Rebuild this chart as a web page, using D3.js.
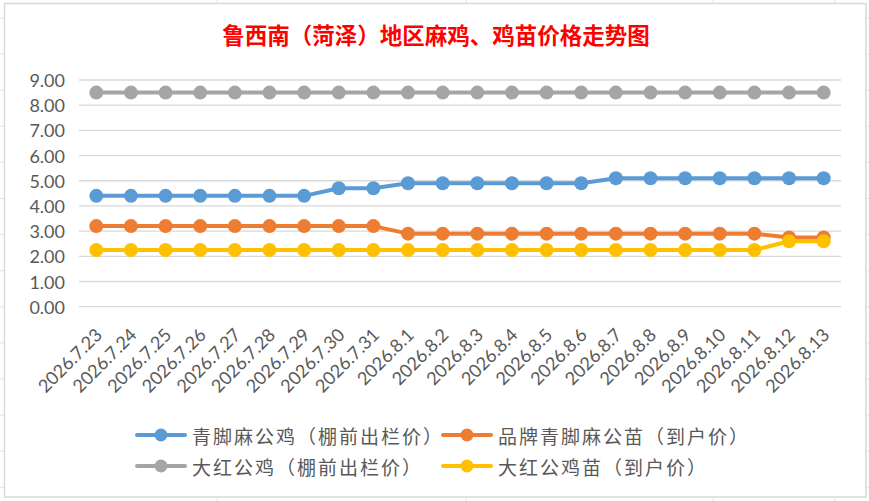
<!DOCTYPE html>
<html>
<head>
<meta charset="utf-8">
<script src="https://cdn.jsdelivr.net/npm/d3@7"></script>
<style>
  html, body { margin: 0; padding: 0; background: #fff; }
  svg { display: block; }
</style>
</head>
<body>
<div id="chart"></div>
<script>
// Data
const dates = ["2026.7.23", "2026.7.24", "2026.7.25", "2026.7.26", "2026.7.27", "2026.7.28", "2026.7.29",
    "2026.7.30", "2026.7.31", "2026.8.1", "2026.8.2", "2026.8.3", "2026.8.4", "2026.8.5", "2026.8.6",
    "2026.8.7", "2026.8.8", "2026.8.9", "2026.8.10", "2026.8.11", "2026.8.12", "2026.8.13"];
const qingjiaoJi = [4.4, 4.4, 4.4, 4.4, 4.4, 4.4, 4.4, 4.7, 4.7, 4.9, 4.9, 4.9, 4.9, 4.9, 4.9,
    5.1, 5.1, 5.1, 5.1, 5.1, 5.1, 5.1];
const pinpaiMiao = [3.2, 3.2, 3.2, 3.2, 3.2, 3.2, 3.2, 3.2, 3.2, 2.9, 2.9, 2.9, 2.9, 2.9, 2.9,
    2.9, 2.9, 2.9, 2.9, 2.9, 2.75, 2.75];
const dahongJi = [8.5, 8.5, 8.5, 8.5, 8.5, 8.5, 8.5, 8.5, 8.5, 8.5, 8.5, 8.5, 8.5, 8.5, 8.5,
    8.5, 8.5, 8.5, 8.5, 8.5, 8.5, 8.5];
const dahongMiao = [2.25, 2.25, 2.25, 2.25, 2.25, 2.25, 2.25, 2.25, 2.25, 2.25, 2.25, 2.25, 2.25, 2.25, 2.25,
    2.25, 2.25, 2.25, 2.25, 2.25, 2.6, 2.6];
const seriesNames = ["青脚麻公鸡（棚前出栏价）", "品牌青脚麻公苗（到户价）", "大红公鸡（棚前出栏价）", "大红公鸡苗（到户价）"];
const yTicks = [0, 1, 2, 3, 4, 5, 6, 7, 8, 9];
const title = "鲁西南（菏泽）地区麻鸡、鸡苗价格走势图";

const width = 869, height = 501;
const colors = ["#5B9BD5", "#ED7D31", "#A5A5A5", "#FFC000"];
const series = [qingjiaoJi, pinpaiMiao, dahongJi, dahongMiao].map((values, i) => ({
    name: seriesNames[i], color: colors[i], values
}));

const svg = d3.select("#chart").append("svg")
    .attr("width", width)
    .attr("height", height)
    .attr("viewBox", [0, 0, width, height]);

// spreadsheet cells behind the chart
const sheet = svg.append("g").attr("stroke", "#e3e3e3").attr("stroke-width", 1);
d3.range(18, height, 36.1).forEach(y => {
    sheet.append("line").attr("x1", 0).attr("x2", width).attr("y1", y).attr("y2", y);
});
[217, 466, 713, 835].forEach(x => {
    sheet.append("line").attr("x1", x).attr("x2", x).attr("y1", 0).attr("y2", height);
});

// chart area
svg.append("rect")
    .attr("x", 4.5).attr("y", 3.5)
    .attr("width", 861.5).attr("height", 493.5)
    .attr("fill", "#fff")
    .attr("stroke", "#d9d9d9")
    .attr("stroke-width", 1.5);

// title
svg.append("text")
    .attr("x", 436)
    .attr("y", 34)
    .attr("text-anchor", "middle")
    .attr("dominant-baseline", "central")
    .style("font-family", "'Noto Sans CJK SC', sans-serif")
    .style("font-size", "22.5px")
    .style("font-weight", "bold")
    .style("fill", "#ff0000")
    .text(title);

// scales
const x = d3.scalePoint()
    .domain(dates)
    .range([79, 841])
    .padding(0.5);
const y = d3.scaleLinear()
    .domain([0, 9])
    .range([306.7, 80]);

// gridlines
svg.append("g")
    .selectAll("line")
    .data(yTicks)
    .join("line")
    .attr("x1", 79).attr("x2", 841)
    .attr("y1", d => y(d)).attr("y2", d => y(d))
    .attr("stroke", "#d9d9d9")
    .attr("stroke-width", 1.3);

// y labels
svg.append("g")
    .selectAll("text")
    .data(yTicks)
    .join("text")
    .attr("x", 65)
    .attr("y", d => y(d))
    .attr("text-anchor", "end")
    .attr("dominant-baseline", "central")
    .style("font-family", "Lato, sans-serif")
    .style("font-size", "18px")
    .style("fill", "#595959")
    .text(d => d3.format(".2f")(d));

// x labels
svg.append("g")
    .selectAll("text")
    .data(dates)
    .join("text")
    .attr("text-anchor", "end")
    .attr("transform", d => `translate(${x(d) + 7},${336}) rotate(-45)`)
    .style("font-family", "Lato, sans-serif")
    .style("font-size", "18px")
    .style("fill", "#595959")
    .text(d => d);

// lines and markers
const line = d3.line()
    .x((d, i) => x(dates[i]))
    .y(d => y(d));

series.forEach(s => {
    const g = svg.append("g");
    g.append("path")
        .datum(s.values)
        .attr("d", line)
        .attr("fill", "none")
        .attr("stroke", s.color)
        .attr("stroke-width", 4)
        .attr("stroke-linejoin", "round")
        .attr("stroke-linecap", "round");
    g.selectAll("circle")
        .data(s.values)
        .join("circle")
        .attr("cx", (d, i) => x(dates[i]))
        .attr("cy", d => y(d))
        .attr("r", 7)
        .attr("fill", s.color);
});

// legend
const legendPos = [[137, 435], [443, 435], [137, 466], [443, 466]];
const legend = svg.append("g")
    .selectAll("g")
    .data(series)
    .join("g")
    .attr("transform", (d, i) => `translate(${legendPos[i][0]},${legendPos[i][1]})`);
legend.append("line")
    .attr("x1", 0).attr("x2", 48)
    .attr("y1", 0).attr("y2", 0)
    .attr("stroke", d => d.color)
    .attr("stroke-width", 4)
    .attr("stroke-linecap", "round");
legend.append("circle")
    .attr("cx", 24).attr("cy", 0)
    .attr("r", 6.5)
    .attr("fill", d => d.color);
legend.append("text")
    .attr("x", 55)
    .attr("y", 0)
    .attr("dominant-baseline", "central")
    .style("font-family", "'Noto Sans CJK SC', sans-serif")
    .style("font-size", "19px")
    .style("letter-spacing", "2px")
    .style("fill", "#595959")
    .text(d => d.name);
</script>
</body>
</html>
